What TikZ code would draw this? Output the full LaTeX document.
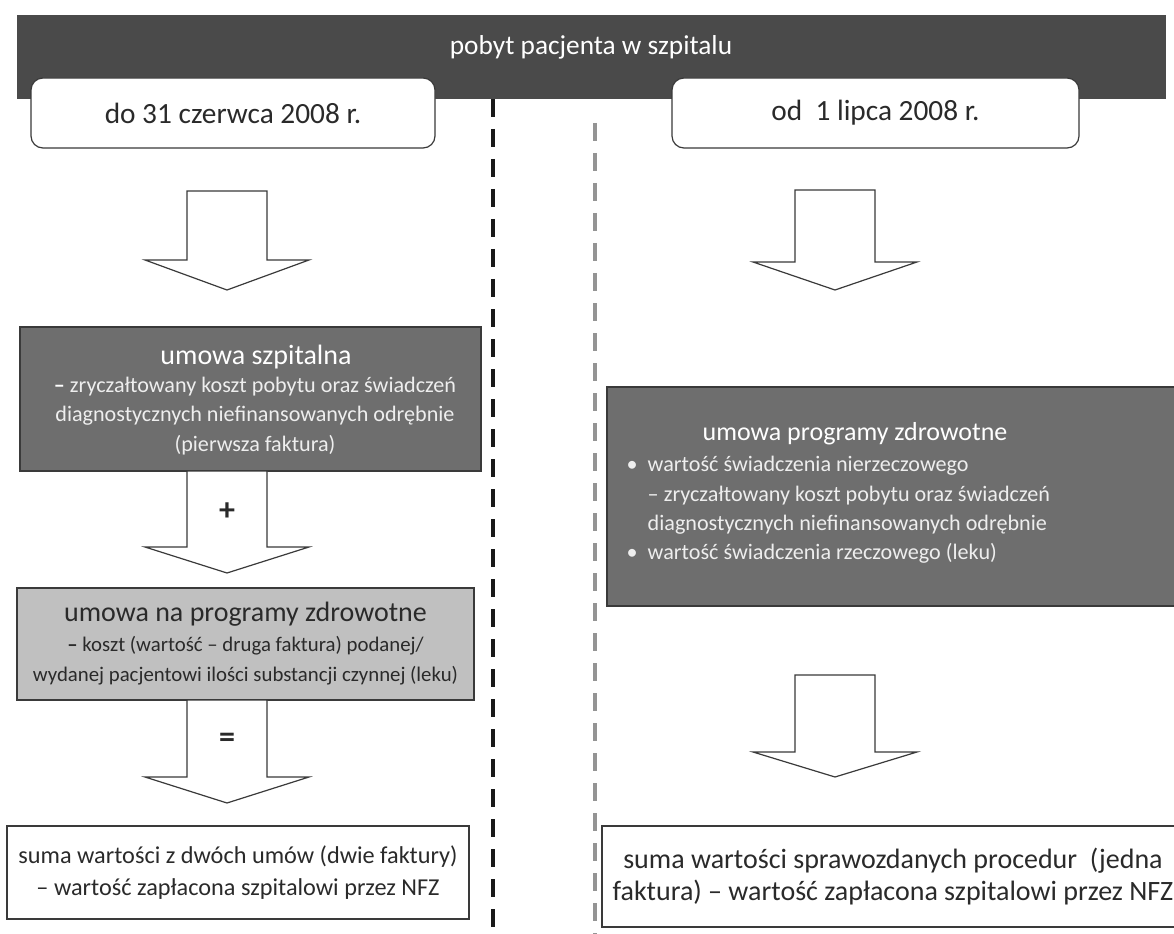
\documentclass[tikz,border=0pt]{standalone}
\usepackage{fontspec}
\setmainfont{Carlito}
\definecolor{bardark}{HTML}{4A4A4A}
\definecolor{boxdark}{HTML}{6E6E6E}
\definecolor{boxlight}{HTML}{C0C0C0}
\definecolor{edge}{HTML}{3A3A3A}
\definecolor{txtlight}{HTML}{EEEEEE}
\definecolor{txtdark}{HTML}{2A2A2A}
\newcommand\blockarr[4]{% cx, top, neck, tip
  \draw[blockarrow] ({#1-40},#2) -- ({#1+40},#2) -- ({#1+40},#3) -- ({#1+82},#3)
    -- (#1,#4) -- ({#1-82},#3) -- ({#1-40},#3) -- cycle;}
\newcommand\bul{\makebox[0.95em][l]{•}}
\newcommand\cont{\hspace*{0.95em}}
\begin{document}
\begin{tikzpicture}[x=0.75pt,y=-0.75pt,
  toptxt/.style={font=\fontsize{20.5}{24}\selectfont},
  datetxt/.style={font=\fontsize{22}{26}\selectfont},
  bigtxt/.style={font=\fontsize{21}{24}\selectfont},
  sumtxt/.style={font=\fontsize{18.2}{24}\selectfont},
  bodytxt/.style={font=\fontsize{16.6}{22}\selectfont},
  graytxt/.style={font=\fontsize{15.6}{22.5}\selectfont},
  blockarrow/.style={draw=edge,line width=0.9pt,fill=white,line join=miter},
  datebox/.style={draw=edge,line width=0.9pt,fill=white,rounded corners=9pt,datetxt,text=txtdark},
  sqbox/.style={draw=edge,line width=0.9pt,inner sep=0pt}]
\useasboundingbox (0,0) rectangle (1174,934);
\clip (0,0) rectangle (1174,934);
\fill[white] (0,0) rectangle (1174,934);
% separators
\draw[line width=3pt, dash pattern=on 13.5pt off 9pt, black!90] (493,99) -- (493,934);
\draw[line width=2.6pt, dash pattern=on 13.5pt off 9pt, black!42] (595,123) -- (595,934);
% top bar
\fill[bardark] (17,15) rectangle (1166,99);
\node[toptxt,text=white] (top) at (591,47) {pobyt pacjenta w szpitalu};
% date boxes
\node[datebox, minimum width=404*0.75pt, minimum height=70*0.75pt] (d1) at (233,113) {do 31 czerwca 2008 r.};
\node[datebox, minimum width=407*0.75pt, minimum height=70*0.75pt] (d2) at (875.5,113) {od\ \ 1 lipca 2008 r.};
% left column
\blockarr{227}{191}{260}{290}
\node[sqbox, fill=boxdark, minimum width=461*0.75pt, minimum height=144*0.75pt] (L1) at (250.5,399) {};
\node[bigtxt,text=white] (L1t) at (256,357) {umowa szpitalna};
\node[bodytxt,text=txtlight,align=center] (L1b) at (255,416)
  {\textcolor{white}{\textbf{–}} zryczałtowany koszt pobytu oraz świadczeń\\diagnostycznych niefinansowanych odrębnie\\(pierwsza faktura)};
\blockarr{227}{471}{547}{573}
\node[font=\bfseries\fontsize{24}{24}\selectfont,text=txtdark] (plus) at (227,512) {+};
\node[sqbox, fill=boxlight, minimum width=457*0.75pt, minimum height=112*0.75pt] (L2) at (245.5,644) {};
\node[bigtxt,text=txtdark] (L2t) at (245.5,614) {umowa na programy zdrowotne};
\node[graytxt,text=txtdark,align=center] (L2b) at (245.5,661)
  {\textbf{–} koszt (wartość – druga faktura) podanej/\\wydanej pacjentowi ilości substancji czynnej (leku)};
\blockarr{227}{700}{777}{803}
\node[font=\bfseries\fontsize{24}{24}\selectfont,text=txtdark] (eq) at (227,740) {=};
\node[sqbox, fill=white, minimum width=462*0.75pt, minimum height=93*0.75pt] (L3) at (238,872.5) {};
\node[sumtxt,text=txtdark,align=center] (L3t) at (238,873)
  {suma wartości z dwóch umów (dwie faktury)\\– wartość zapłacona szpitalowi przez NFZ};
% right column
\blockarr{835}{190}{262}{290}
\node[sqbox, fill=boxdark, minimum width=580*0.75pt, minimum height=219*0.75pt] (R1) at (897,496.5) {};
\node[font=\fontsize{19.5}{24}\selectfont,text=white] (R1t) at (855,434) {umowa programy zdrowotne};
\node[bodytxt,text=txtlight,align=left,anchor=west] (R1b) at (622,510)
  {\bul wartość świadczenia nierzeczowego\\
   \cont – zryczałtowany koszt pobytu oraz świadczeń\\
   \cont diagnostycznych niefinansowanych odrębnie\\
   \bul wartość świadczenia rzeczowego (leku)};
\blockarr{835}{675}{752}{777}
\node[sqbox, fill=white, minimum width=600*0.75pt, minimum height=101*0.75pt] (R2) at (902,876.5) {};
\node[bigtxt,text=txtdark,align=center] (R2t) at (893,877)
  {suma wartości sprawozdanych procedur\ \ (jedna\\faktura) – wartość zapłacona szpitalowi przez NFZ};
\end{tikzpicture}
\end{document}
